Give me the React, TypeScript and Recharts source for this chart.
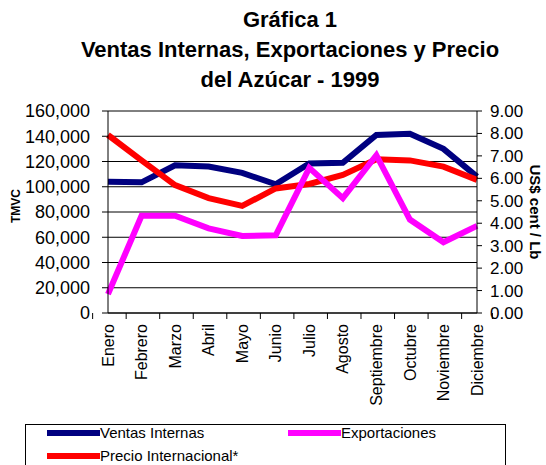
import React from 'react';
import { ComposedChart, Line, XAxis, YAxis, CartesianGrid } from 'recharts';

const MONTHS = ['Enero', 'Febrero', 'Marzo', 'Abril', 'Mayo', 'Junio', 'Julio', 'Agosto', 'Septiembre', 'Octubre', 'Noviembre', 'Diciembre'];
const VENTAS_INTERNAS = [104000, 103500, 117000, 116000, 111000, 102000, 118500, 119000, 141000, 142000, 130000, 108000];
const EXPORTACIONES = [15000, 77000, 77000, 67000, 61000, 61500, 115000, 91000, 125000, 74000, 56000, 69000];
const PRECIO_INTERNACIONAL = [7.93, 6.8, 5.7, 5.12, 4.77, 5.55, 5.75, 6.15, 6.85, 6.8, 6.52, 5.93];

const LEFT_TICKS = [0, 20000, 40000, 60000, 80000, 100000, 120000, 140000, 160000];
const RIGHT_TICKS = [0, 1, 2, 3, 4, 5, 6, 7, 8, 9];

const data = MONTHS.map((m, i) => ({
  mes: m,
  ventas: VENTAS_INTERNAS[i],
  export: EXPORTACIONES[i],
  precio: PRECIO_INTERNACIONAL[i],
}));

const FONT = '"Liberation Sans", Arial, sans-serif';
const W = 546;
const H = 465;
const PLOT_LEFT = 108;
const PLOT_RIGHT = 477;
const BAND = (PLOT_RIGHT - PLOT_LEFT) / MONTHS.length;

const MonthTick = (props: any) => {
  const { x, y, payload, index } = props;
  const top = y - 8;
  return (
    <g>
      <line x1={x - BAND / 2} x2={x - BAND / 2} y1={top} y2={top + 6} stroke="#000" />
      {index === MONTHS.length - 1 && (
        <line x1={x + BAND / 2} x2={x + BAND / 2} y1={top} y2={top + 6} stroke="#000" />
      )}
      <text
        transform={`translate(${x},${top + 11}) rotate(-90)`}
        textAnchor="end"
        dy="0.35em"
        fontSize={16}
        fontFamily={FONT}
        fill="#000"
      >
        {payload.value}
      </text>
    </g>
  );
};

const LegendItem = ({ color, label, left, top }: { color: string; label: string; left: number; top: number }) => (
  <div style={{ position: 'absolute', left, top, display: 'flex', alignItems: 'center' }}>
    <div style={{ width: 53, height: 6, background: color }} />
    <span style={{ fontSize: 15, fontFamily: FONT, color: '#000', lineHeight: '18px' }}>{label}</span>
  </div>
);

export default function App() {
  return (
    <div style={{ position: 'absolute', left: 0, top: 0, width: W, height: H, background: '#fff', overflow: 'hidden' }}>
      <div
        style={{
          position: 'absolute',
          left: 0,
          top: 5,
          width: 580,
          textAlign: 'center',
          fontFamily: FONT,
          fontWeight: 'bold',
          fontSize: 22,
          lineHeight: '30px',
          color: '#000',
        }}
      >
        <div>Gráfica 1</div>
        <div>Ventas Internas, Exportaciones y Precio</div>
        <div>del Azúcar - 1999</div>
      </div>

      <ComposedChart
        width={W}
        height={H}
        data={data}
        margin={{ top: 111, right: 0, left: 0, bottom: 52 }}
        style={{ position: 'absolute', left: 0, top: 0 }}
      >
        <CartesianGrid vertical={false} stroke="#000" yAxisId="left" horizontalValues={LEFT_TICKS} />
        <XAxis
          dataKey="mes"
          height={100}
          interval={0}
          tickLine={false}
          axisLine={{ stroke: '#000' }}
          tick={<MonthTick />}
        />
        <YAxis
          yAxisId="left"
          width={PLOT_LEFT}
          domain={[0, 160000]}
          ticks={LEFT_TICKS}
          interval={0}
          tickFormatter={(v: number) => v.toLocaleString('en-US')}
          tick={{ fontSize: 18, fontFamily: FONT, fill: '#000' }}
          axisLine={{ stroke: '#000' }}
          tickLine={{ stroke: '#000' }}
          tickSize={6}
          tickMargin={12}
          label={{
            value: 'TMVC',
            angle: -90,
            position: 'insideLeft',
            offset: 16,
            dy: -6,
            style: { fontSize: 12, fontWeight: 'bold', fontFamily: FONT, fill: '#000', textAnchor: 'middle' },
          }}
        />
        <YAxis
          yAxisId="right"
          orientation="right"
          width={W - PLOT_RIGHT}
          domain={[0, 9]}
          ticks={RIGHT_TICKS}
          interval={0}
          tickFormatter={(v: number) => v.toFixed(2)}
          tick={{ fontSize: 17, fontFamily: FONT, fill: '#000', textAnchor: 'start' }}
          axisLine={{ stroke: '#000' }}
          tickLine={{ stroke: '#000' }}
          tickSize={5}
          tickMargin={8}
          label={{
            value: 'US$ cent / Lb',
            angle: 90,
            position: 'insideRight',
            offset: 11,
            style: { fontSize: 15, fontWeight: 'bold', fontFamily: FONT, fill: '#000', textAnchor: 'middle' },
          }}
        />
        <Line yAxisId="left" type="linear" dataKey="ventas" stroke="#000080" strokeWidth={6} dot={false} isAnimationActive={false} />
        <Line yAxisId="right" type="linear" dataKey="precio" stroke="#ff0000" strokeWidth={6} dot={false} isAnimationActive={false} />
        <Line yAxisId="left" type="linear" dataKey="export" stroke="#ff00ff" strokeWidth={6} dot={false} isAnimationActive={false} />
      </ComposedChart>

      <div style={{ position: 'absolute', left: 25, top: 424, width: 481, height: 60, border: '1px solid #000', boxSizing: 'border-box' }} />
      <LegendItem color="#000080" label="Ventas Internas" left={47} top={424} />
      <LegendItem color="#ff00ff" label="Exportaciones" left={288} top={424} />
      <LegendItem color="#ff0000" label="Precio Internacional*" left={47} top={447} />
    </div>
  );
}
